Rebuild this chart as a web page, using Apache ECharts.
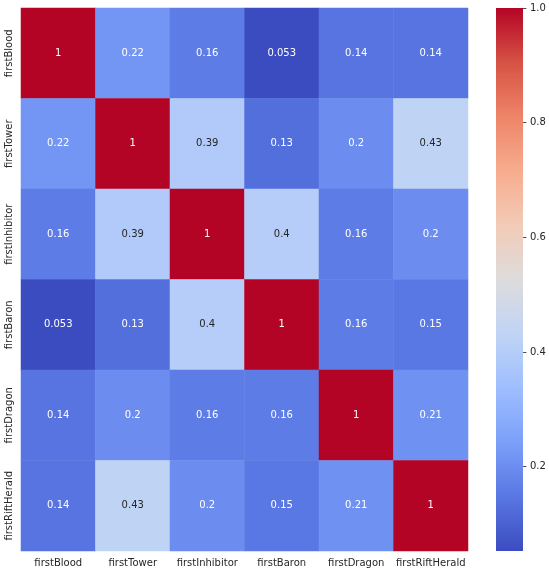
<!DOCTYPE html>
<html>
<head>
<meta charset="utf-8">
<script src="https://cdn.jsdelivr.net/npm/echarts@6/dist/echarts.min.js"></script>
<style>html,body{margin:0;padding:0;background:#fff}#c{width:549px;height:577px}</style>
</head>
<body>
<div id="c"></div>
<script>
const categories = ['firstBlood','firstTower','firstInhibitor','firstBaron','firstDragon','firstRiftHerald'];
const corrFirstBlood     = [1, 0.22, 0.16, 0.053, 0.14, 0.14];
const corrFirstTower     = [0.22, 1, 0.39, 0.13, 0.2, 0.43];
const corrFirstInhibitor = [0.16, 0.39, 1, 0.4, 0.16, 0.2];
const corrFirstBaron     = [0.053, 0.13, 0.4, 1, 0.16, 0.15];
const corrFirstDragon    = [0.14, 0.2, 0.16, 0.16, 1, 0.21];
const corrFirstRiftHerald= [0.14, 0.43, 0.2, 0.15, 0.21, 1];
const colorbarTicks = [0.2, 0.4, 0.6, 0.8, 1.0];
const vmin = 0.053, vmax = 1;

const rows = [corrFirstBlood, corrFirstTower, corrFirstInhibitor, corrFirstBaron, corrFirstDragon, corrFirstRiftHerald];
const coolwarm = ['#3b4cc0','#5977e3','#7b9ff9','#9ebeff','#c0d4f5','#dddcdc','#f2cbb7','#f7ac8e','#ee8468','#d65244','#b40426'];

function textColor(v){
  const t = (v - vmin) / (vmax - vmin);
  return (t > 0.3 && t < 0.72) ? '#262626' : '#ffffff';
}

const data = [];
rows.forEach((r, yi) => r.forEach((v, xi) => data.push({value:[xi, yi, v], label:{color:textColor(v)}})));

const G = {left:21, top:8, width:447, height:543};
const CB = {left:496, top:8, width:27, height:543};

const chart = echarts.init(document.getElementById('c'));
chart.setOption({
  animation:false,
  textStyle:{fontFamily:'DejaVu Sans'},
  grid:[
    {left:G.left, top:G.top, width:G.width, height:G.height},
    {left:CB.left, top:CB.top, width:CB.width, height:CB.height}
  ],
  xAxis:[
    {type:'category', data:categories, gridIndex:0,
     axisLine:{show:false}, splitLine:{show:false},
     axisTick:{alignWithLabel:true, length:3.5, lineStyle:{color:'#262626', width:0.8}},
     axisLabel:{color:'#262626', fontSize:10, margin:7, interval:0}},
    {type:'category', data:['cb'], gridIndex:1, show:false}
  ],
  yAxis:[
    {type:'category', data:categories, gridIndex:0, inverse:true,
     axisLine:{show:false}, splitLine:{show:false},
     axisTick:{alignWithLabel:true, length:3.5, lineStyle:{color:'#262626', width:0.8}},
     axisLabel:{color:'#262626', fontSize:10, margin:7, rotate:90, interval:0}},
    {type:'value', gridIndex:1, position:'right', min:vmin, max:vmax,
     axisLine:{show:false, onZero:false}, splitLine:{show:false},
     axisTick:{show:true, inside:false, length:3.5, customValues:colorbarTicks, lineStyle:{color:'#262626', width:0.8}},
     axisLabel:{color:'#262626', fontSize:10, margin:7, customValues:colorbarTicks, formatter:v=>v.toFixed(1)}}
  ],
  visualMap:{show:false, min:vmin, max:vmax, inRange:{color:coolwarm}, seriesIndex:0},
  series:[{
    type:'heatmap', xAxisIndex:0, yAxisIndex:0, data:data,
    label:{show:true, fontSize:10, fontFamily:'DejaVu Sans', formatter:p=>String(p.value[2])},
    emphasis:{disabled:true}
  }],
  graphic:[{
    type:'rect', shape:{x:CB.left, y:CB.top, width:CB.width, height:CB.height}, z:-1,
    style:{fill:new echarts.graphic.LinearGradient(0,1,0,0, coolwarm.map((c,i)=>({offset:i/(coolwarm.length-1), color:c})))}
  }]
});
</script>
</body>
</html>
